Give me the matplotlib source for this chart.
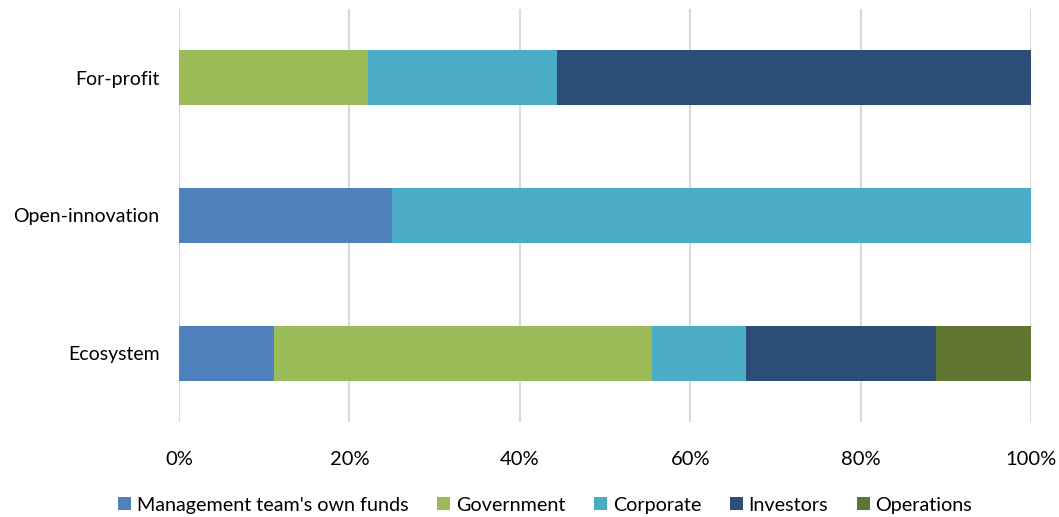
import matplotlib
matplotlib.use("Agg")
import matplotlib.pyplot as plt
from matplotlib.ticker import FuncFormatter

plt.rcParams['font.family'] = ['Lato', 'DejaVu Sans']

categories = ["Ecosystem", "Open-innovation", "For-profit"]
series_names = ["Management team's own funds", "Government", "Corporate", "Investors", "Operations"]
management = [11.1, 25.0, 0.0]
government = [44.4, 0.0, 22.2]
corporate = [11.1, 75.0, 22.2]
investors = [22.3, 0.0, 55.6]
operations = [11.1, 0.0, 0.0]
colors = ["#4F81BD", "#9BBB59", "#4BACC6", "#2C4D75", "#5F7530"]
x_ticks = [0, 20, 40, 60, 80, 100]

fig = plt.figure(figsize=(10.59, 5.17), dpi=100)
ax = fig.add_axes([0.169, 0.1838, 0.8046, 0.7988])

series = [management, government, corporate, investors, operations]
left = [0.0] * len(categories)
for name, vals, col in zip(series_names, series, colors):
    ax.barh(categories, vals, left=left, height=0.4, color=col, label=name, zorder=3)
    left = [l + v for l, v in zip(left, vals)]

ax.set_xlim(0, 100)
ax.set_ylim(-0.5, 2.5)
ax.set_xticks(x_ticks)
ax.xaxis.set_major_formatter(FuncFormatter(lambda v, p: f"{v:.0f}%"))
ax.grid(axis='x', color='#D9D9D9', linewidth=1.5, zorder=0)
for s in ax.spines.values():
    s.set_visible(False)
ax.tick_params(axis='both', length=0, colors='#000000')
ax.tick_params(axis='x', pad=21, labelsize=14.5)
ax.tick_params(axis='y', pad=14, labelsize=14)

handles, labels = ax.get_legend_handles_labels()
fig.legend(handles, labels, loc='center', bbox_to_anchor=(0.515, 0.023), ncol=5,
           frameon=False, fontsize=14.2, handlelength=0.65, handleheight=0.65,
           handletextpad=0.3, columnspacing=1.45)

fig.savefig("out.png", dpi=100)
